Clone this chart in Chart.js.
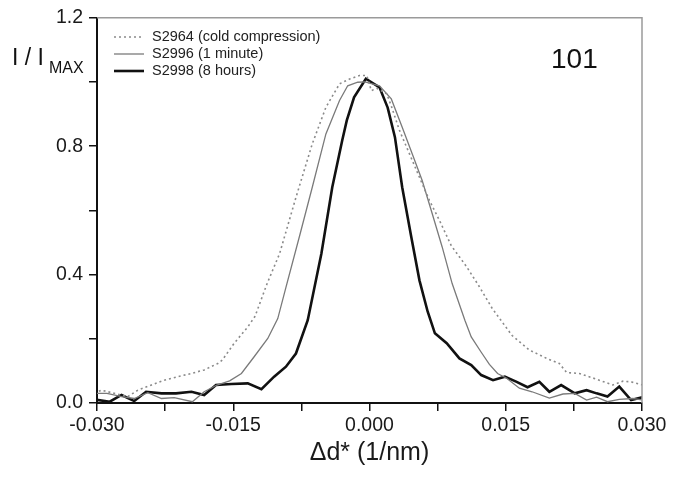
<!DOCTYPE html>
<html>
<head>
<meta charset="utf-8">
<script src="https://cdn.jsdelivr.net/npm/chart.js@4"></script>
<style>
  html, body { margin: 0; padding: 0; background: #fff; }
  #wrap { width: 682px; height: 477px; }
</style>
</head>
<body>
<div id="wrap"><canvas id="profile" width="682" height="477"></canvas></div>
<script>
// 101 reflection profiles: normalised intensity vs. delta d* for three samples.

const xCold = [-0.0303, -0.0295, -0.0281, -0.0266, -0.0255, -0.0240, -0.0226, -0.0211, -0.0196, -0.0182,
    -0.0167, -0.0162, -0.0149, -0.0134, -0.0126, -0.0113, -0.0099, -0.0081, -0.0063, -0.0048,
    -0.0033, -0.0022, -0.0011, -0.0003, 0.0002, 0.0008, 0.0019, 0.0024, 0.0033, 0.0044,
    0.0055, 0.0066, 0.0077, 0.0090, 0.0107, 0.0121, 0.0135, 0.0157, 0.0176, 0.0195,
    0.0209, 0.0217, 0.0231, 0.0250, 0.0268, 0.0279, 0.0288, 0.0301];
const yCold = [0.030, 0.040, 0.030, 0.020, 0.040, 0.056, 0.071, 0.082, 0.092, 0.103,
    0.123, 0.134, 0.186, 0.237, 0.270, 0.370, 0.465, 0.640, 0.807, 0.921,
    0.994, 1.009, 1.020, 1.020, 0.973, 0.980, 0.963, 0.925, 0.849, 0.776,
    0.703, 0.631, 0.569, 0.490, 0.424, 0.362, 0.295, 0.210, 0.165, 0.139,
    0.123, 0.095, 0.092, 0.074, 0.056, 0.068, 0.066, 0.056];

const xOneMin = [-0.0303, -0.0289, -0.0273, -0.0259, -0.0244, -0.0229, -0.0215, -0.0195, -0.0182, -0.0168,
    -0.0154, -0.0141, -0.0127, -0.0112, -0.0101, -0.0092, -0.0077, -0.0063, -0.0048, -0.0033,
    -0.0024, -0.0013, -0.0005, 0.0011, 0.0024, 0.0036, 0.0047, 0.0058, 0.0069, 0.0080,
    0.0091, 0.0105, 0.0112, 0.0123, 0.0132, 0.0141, 0.0151, 0.0165, 0.0179, 0.0198,
    0.0213, 0.0226, 0.0239, 0.0250, 0.0262, 0.0275, 0.0290, 0.0301];
const yOneMin = [0.030, 0.030, 0.020, 0.014, 0.032, 0.014, 0.017, 0.004, 0.035, 0.056,
    0.069, 0.092, 0.144, 0.201, 0.263, 0.360, 0.520, 0.672, 0.838, 0.942,
    0.988, 0.999, 1.000, 0.988, 0.947, 0.859, 0.776, 0.693, 0.590, 0.486,
    0.372, 0.258, 0.206, 0.158, 0.120, 0.092, 0.077, 0.046, 0.035, 0.015,
    0.028, 0.030, 0.009, 0.018, 0.004, 0.011, 0.014, 0.009];

const xEightH = [-0.0303, -0.0286, -0.0273, -0.0259, -0.0246, -0.0229, -0.0213, -0.0196, -0.0182, -0.0169,
    -0.0152, -0.0134, -0.0119, -0.0105, -0.0092, -0.0081, -0.0068, -0.0053, -0.0041, -0.0030,
    -0.0025, -0.0017, -0.0004, 0.0011, 0.0020, 0.0028, 0.0036, 0.0046, 0.0055, 0.0064,
    0.0072, 0.0085, 0.0099, 0.0112, 0.0123, 0.0136, 0.0149, 0.0162, 0.0174, 0.0187,
    0.0198, 0.0211, 0.0226, 0.0239, 0.0250, 0.0262, 0.0275, 0.0288, 0.0301];
const yEightH = [0.011, 0.004, 0.025, 0.006, 0.035, 0.030, 0.030, 0.035, 0.025, 0.056,
    0.059, 0.061, 0.043, 0.082, 0.113, 0.154, 0.258, 0.465, 0.672, 0.818,
    0.880, 0.952, 1.010, 0.983, 0.920, 0.828, 0.672, 0.517, 0.382, 0.285,
    0.217, 0.186, 0.139, 0.118, 0.087, 0.071, 0.082, 0.066, 0.049, 0.066,
    0.035, 0.056, 0.030, 0.040, 0.030, 0.020, 0.051, 0.009, 0.018];

const seriesNames = ['S2964 (cold compression)', 'S2996 (1 minute)', 'S2998 (8 hours)'];
const xTickLabels = ['-0.030', '-0.015', '0.000', '0.015', '0.030'];
const yTickLabels = ['0.0', '0.4', '0.8', '1.2'];

const FONT = "'Liberation Sans', Arial, Helvetica, sans-serif";

const pts = (xs, ys) => xs.map((x, i) => ({ x: x, y: ys[i] }));

const datasets = [
    { label: seriesNames[0], data: pts(xCold, yCold), borderColor: '#8a8a8a', borderWidth: 1.6, borderDash: [2, 3] },
    { label: seriesNames[1], data: pts(xOneMin, yOneMin), borderColor: '#7a7a7a', borderWidth: 1.3 },
    { label: seriesNames[2], data: pts(xEightH, yEightH), borderColor: '#111111', borderWidth: 2.6 }
].map(d => Object.assign({ pointRadius: 0, tension: 0, fill: false }, d));

// frame, legend, panel tag and y title
const extras = {
    id: 'extras',
    afterDraw(chart) {
        const { ctx, chartArea: a } = chart;
        ctx.save();
        ctx.strokeStyle = '#9a9a9a';
        ctx.lineWidth = 1.5;
        ctx.beginPath();
        ctx.moveTo(a.left, a.top);
        ctx.lineTo(a.right, a.top);
        ctx.lineTo(a.right, a.bottom);
        ctx.stroke();

        ctx.font = '14.5px ' + FONT;
        ctx.textBaseline = 'middle';
        chart.data.datasets.forEach((ds, i) => {
            const y = 37 + i * 17;
            ctx.strokeStyle = ds.borderColor;
            ctx.lineWidth = ds.borderWidth;
            ctx.setLineDash(ds.borderDash || []);
            ctx.beginPath();
            ctx.moveTo(114, y);
            ctx.lineTo(144, y);
            ctx.stroke();
            ctx.setLineDash([]);
            ctx.fillStyle = '#222';
            ctx.fillText(ds.label, 152, y);
        });

        ctx.fillStyle = '#111';
        ctx.textBaseline = 'alphabetic';
        ctx.font = '28px ' + FONT;
        ctx.fillText('101', 551, 68);

        ctx.font = '23px ' + FONT;
        ctx.fillText('I / I', 12, 65);
        ctx.font = '16px ' + FONT;
        ctx.fillText('MAX', 49, 73);
        ctx.restore();
    }
};

new Chart(document.getElementById('profile'), {
    type: 'line',
    data: { datasets: datasets },
    plugins: [extras],
    options: {
        responsive: false,
        animation: false,
        layout: { padding: { left: 0, top: 15, right: 40, bottom: 0 } },
        plugins: { legend: { display: false }, tooltip: { enabled: false } },
        scales: {
            x: {
                type: 'linear',
                min: -0.03,
                max: 0.03,
                afterFit: s => { s.height = 74; },
                grid: { drawOnChartArea: false, drawTicks: true, tickLength: 8, color: '#111', lineWidth: 1.5 },
                border: { display: true, color: '#111', width: 2 },
                ticks: {
                    stepSize: 0.0075,
                    autoSkip: false,
                    maxRotation: 0,
                    padding: 3,
                    color: '#1a1a1a',
                    font: { family: FONT, size: 19.5 },
                    callback: v => {
                        const k = v / 0.015;
                        if (Math.abs(k - Math.round(k)) > 1e-6) return '';
                        return xTickLabels[Math.round(k) + 2];
                    }
                },
                title: {
                    display: true,
                    text: '\u0394d* (1/nm)',
                    color: '#1a1a1a',
                    font: { family: FONT, size: 25 },
                    padding: { top: 0, bottom: 9 }
                }
            },
            y: {
                min: 0,
                max: 1.2,
                afterFit: s => { s.width = 97; },
                grid: { drawOnChartArea: false, drawTicks: true, tickLength: 8, color: '#111', lineWidth: 1.5 },
                border: { display: true, color: '#111', width: 2 },
                ticks: {
                    stepSize: 0.2,
                    autoSkip: false,
                    padding: 6,
                    color: '#1a1a1a',
                    font: { family: FONT, size: 19.5 },
                    callback: v => {
                        const k = v / 0.4;
                        if (Math.abs(k - Math.round(k)) > 1e-6) return '';
                        return yTickLabels[Math.round(k)];
                    }
                }
            }
        }
    }
});
</script>
</body>
</html>
